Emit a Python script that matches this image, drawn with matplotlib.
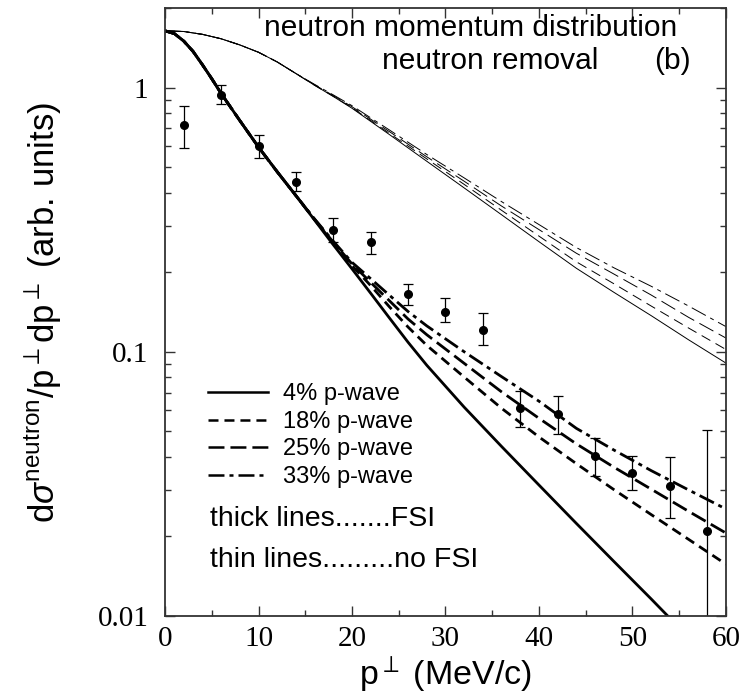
import numpy as np
import matplotlib
matplotlib.use('Agg')
import matplotlib.pyplot as plt
from matplotlib.ticker import FixedLocator, FixedFormatter, LogLocator, NullFormatter, MultipleLocator

plt.rcParams['font.family'] = ['Liberation Sans', 'DejaVu Sans']
plt.rcParams['mathtext.fontset'] = 'custom'
plt.rcParams['mathtext.rm'] = 'Liberation Sans'
plt.rcParams['mathtext.it'] = 'Liberation Sans:italic'
plt.rcParams['mathtext.sf'] = 'Liberation Sans'
plt.rcParams['lines.scale_dashes'] = False

# data points (p_perp in MeV/c, value, lower, upper)
p_data = [2, 6, 10, 14, 18, 22, 26, 30, 34, 38, 42, 46, 50, 54, 58]
y_data = [0.72, 0.94, 0.60, 0.44, 0.29, 0.26, 0.166, 0.142, 0.121,
          0.0615, 0.0583, 0.0403, 0.0349, 0.031, 0.0209]
y_low = [0.59, 0.87, 0.54, 0.405, 0.26, 0.235, 0.15, 0.13, 0.106,
         0.052, 0.0488, 0.034, 0.030, 0.0235, 0.005]
y_high = [0.85, 1.02, 0.66, 0.48, 0.32, 0.285, 0.18, 0.16, 0.14,
          0.0713, 0.0678, 0.047, 0.0402, 0.040, 0.0504]

# thick lines (FSI)
p_fsi = [0, 1, 2, 3, 4, 5, 6, 8, 10, 12, 14, 16, 18, 20, 22, 24, 26, 28, 32, 36, 40, 44, 48, 52, 56, 60]
fsi_4 = [1.64, 1.60, 1.50, 1.37, 1.22, 1.08, 0.95, 0.75, 0.595, 0.48, 0.39, 0.315, 0.254, 0.206,
         0.1665, 0.1343, 0.1086, 0.0889, 0.0617, 0.0438, 0.0313, 0.0224, 0.0161, 0.0116, 0.0083, 0.0060]
fsi_18 = [1.64, 1.60, 1.50, 1.37, 1.22, 1.08, 0.95, 0.75, 0.595, 0.48, 0.39, 0.316, 0.258, 0.212,
          0.178, 0.148, 0.124, 0.1057, 0.0802, 0.0611, 0.0476, 0.0377, 0.0301, 0.0242, 0.0195, 0.0157]
fsi_25 = [1.64, 1.60, 1.50, 1.37, 1.22, 1.08, 0.95, 0.75, 0.595, 0.48, 0.39, 0.317, 0.26, 0.215,
          0.183, 0.156, 0.133, 0.116, 0.0904, 0.0705, 0.056, 0.0448, 0.0366, 0.0302, 0.0249, 0.0206]
fsi_33 = [1.64, 1.60, 1.50, 1.37, 1.22, 1.08, 0.95, 0.75, 0.595, 0.48, 0.39, 0.318, 0.262, 0.218,
          0.189, 0.1637, 0.142, 0.1253, 0.100, 0.0805, 0.065, 0.0513, 0.0425, 0.0355, 0.030, 0.0254]

# thin lines (no FSI)
p_nofsi = [0, 2, 4, 6, 8, 10, 12, 14, 16, 18, 20, 24, 28, 32, 36, 40, 44, 48, 52, 56, 60]
nofsi_4 = [1.64, 1.63, 1.59, 1.53, 1.45, 1.36, 1.25, 1.13, 1.02, 0.925, 0.835, 0.664, 0.526,
           0.417, 0.33, 0.261, 0.207, 0.168, 0.137, 0.111, 0.0906]
nofsi_18 = [1.64, 1.63, 1.59, 1.53, 1.45, 1.36, 1.25, 1.13, 1.02, 0.927, 0.839, 0.671, 0.537,
            0.430, 0.343, 0.274, 0.219, 0.181, 0.149, 0.123, 0.102]
nofsi_25 = [1.64, 1.63, 1.59, 1.53, 1.45, 1.36, 1.25, 1.13, 1.024, 0.932, 0.846, 0.681, 0.547,
            0.442, 0.356, 0.290, 0.236, 0.197, 0.164, 0.135, 0.1127]
nofsi_33 = [1.64, 1.63, 1.59, 1.53, 1.45, 1.36, 1.25, 1.13, 1.028, 0.938, 0.854, 0.691, 0.558,
            0.455, 0.37, 0.303, 0.248, 0.208, 0.177, 0.149, 0.1245]

labels = ['4% p-wave', '18% p-wave', '25% p-wave', '33% p-wave']
styles = ['-', (0, (7.2, 4.3)), (0, (11.5, 4.3)), (0, (11.5, 3.6, 2.9, 3.6))]

fig = plt.figure(figsize=(7.42, 6.98), dpi=100)
ax = fig.add_axes([0.2224, 0.1175, 0.756, 0.871])

for ys, ls in zip([nofsi_4, nofsi_18, nofsi_25, nofsi_33], styles):
    ax.plot(p_nofsi, ys, color='black', lw=0.7, linestyle=ls)

handles = []
for ys, ls, lab in zip([fsi_4, fsi_18, fsi_25, fsi_33], styles, labels):
    h, = ax.plot(p_fsi, ys, color='black', lw=2.0, linestyle=ls, label=lab)
    handles.append(h)

yerr = [np.array(y_data) - np.array(y_low), np.array(y_high) - np.array(y_data)]
ax.errorbar(p_data, y_data, yerr=yerr, fmt='o', color='black', ms=5.5,
            elinewidth=0.9, capsize=3.5, capthick=0.9)

ax.set_yscale('log')
ax.set_xlim(0, 60)
ax.set_ylim(0.01, 2.0)

ax.xaxis.set_major_locator(MultipleLocator(10))
ax.xaxis.set_minor_locator(MultipleLocator(5))
ax.yaxis.set_major_locator(FixedLocator([0.01, 0.1, 1]))
ax.yaxis.set_major_formatter(FixedFormatter(['0.01', '0.1', '1']))
ax.yaxis.set_minor_locator(LogLocator(base=10, subs=np.arange(2, 10)))
ax.yaxis.set_minor_formatter(NullFormatter())
ax.tick_params(which='both', direction='in', top=True, right=True, width=1.0, color='#333333')
ax.tick_params(which='major', length=7)
ax.tick_params(which='minor', length=4)
for lab in ax.get_xticklabels() + ax.get_yticklabels():
    lab.set_family('Liberation Serif')
    lab.set_fontsize(21)
ax.tick_params(axis='x', pad=7)
ax.tick_params(axis='y', pad=12)
for sp in ax.spines.values():
    sp.set_linewidth(1.3)
    sp.set_color('#333333')

ax.set_xlabel(r'p$^{\perp}$ (MeV/c)', fontsize=24.5, labelpad=2)
ax.set_ylabel(r'd$\sigma^{\mathrm{neutron}}$/p$^{\perp}$dp$^{\perp}$ (arb. units)',
              fontsize=25, labelpad=24)

ax.text(0.545, 0.99, 'neutron momentum distribution', transform=ax.transAxes,
        ha='center', va='top', fontsize=21.5)
ax.text(0.58, 0.936, 'neutron removal', transform=ax.transAxes,
        ha='center', va='top', fontsize=21.5)
ax.text(0.905, 0.936, '(b)', transform=ax.transAxes,
        ha='center', va='top', fontsize=21.5)

leg = ax.legend(handles=handles, loc='upper left', bbox_to_anchor=(0.077, 0.383),
                frameon=False, fontsize=17, handlelength=2.55, handletextpad=0.6,
                labelspacing=0.24, borderpad=0, borderaxespad=0)
for lh in leg.get_lines():
    lh.set_linewidth(1.8)

ax.text(0.08, 0.16, 'thick lines.......FSI', transform=ax.transAxes,
        ha='left', va='center', fontsize=20.5)
ax.text(0.08, 0.092, 'thin lines.........no FSI', transform=ax.transAxes,
        ha='left', va='center', fontsize=20.5)

fig.savefig('out.png', dpi=100)
